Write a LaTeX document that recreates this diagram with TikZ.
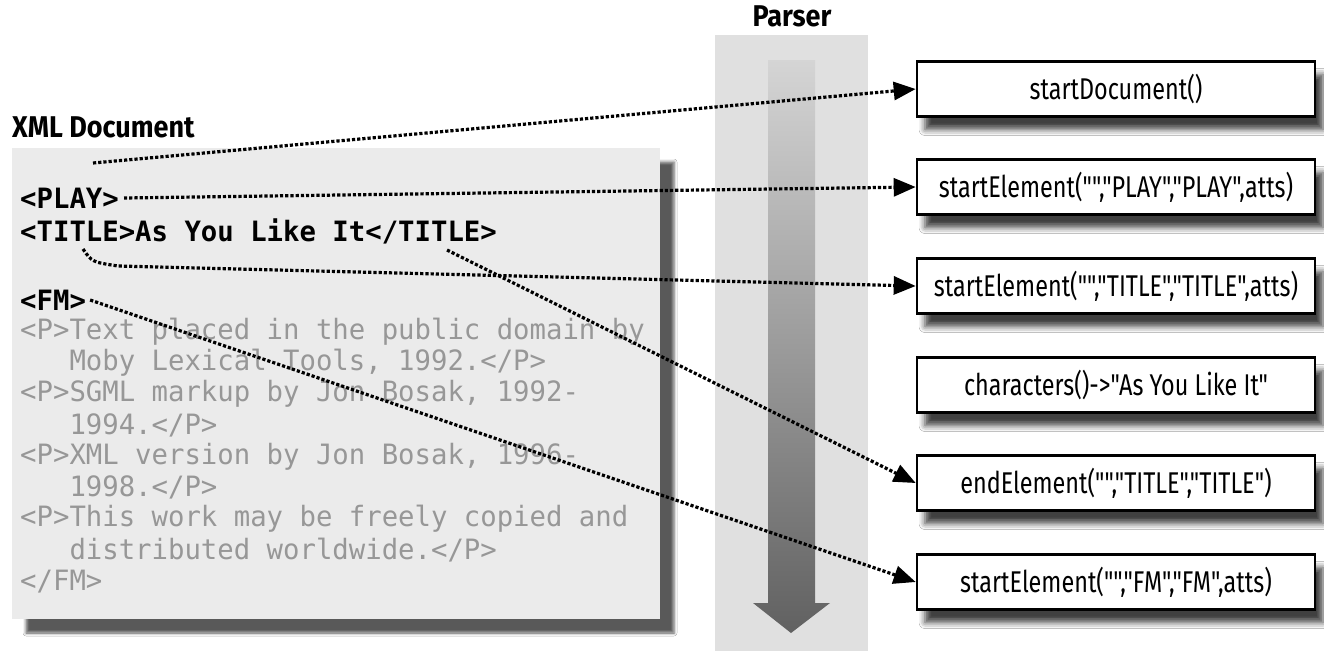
\documentclass[tikz,border=0pt]{standalone}
\usepackage{fontspec}
\setmainfont{Fira Sans}
\setmonofont{DejaVu Sans Mono}
\newfontfamily\callfont{Fira Sans}[Ligatures=TeXOff]
\usetikzlibrary{arrows.meta,shadows.blur}
\definecolor{docfill}{HTML}{EBEBEB}
\definecolor{bandfill}{HTML}{E0E0E0}
\definecolor{codegraycol}{HTML}{979797}
\newcommand{\calltext}[1]{\scalebox{0.78}[1]{#1}}
\newcommand{\headtext}[1]{\scalebox{0.9}[1]{#1}}
\newcommand{\codetext}[1]{\scalebox{0.975}[1]{#1}}
\tikzset{
  codeblack/.style={anchor=west, inner sep=0pt, text=black,
    font=\fontsize{28}{30}\selectfont\ttfamily\bfseries},
  codegray/.style={anchor=west, inner sep=0pt, text=codegraycol,
    font=\fontsize{28}{30}\selectfont\ttfamily},
  heading/.style={inner sep=0pt, text=black,
    font=\fontsize{30}{34}\selectfont\bfseries},
  callbox/.style={draw=black, line width=2.6pt, fill=white,
    minimum width=398pt, minimum height=55pt, inner sep=0pt,
    font=\fontsize{30}{34}\callfont,
    blur shadow={shadow xshift=8pt, shadow yshift=-13pt,
      shadow blur radius=6pt, shadow opacity=75}},
  flow/.style={line width=3.2pt, dash pattern=on 3.2pt off 2pt,
    -{Triangle[length=22pt,width=18pt,fill=black]}},
}
\begin{document}
\begin{tikzpicture}[x=1pt,y=-1pt]
\useasboundingbox (0,0) rectangle (1324,651);
\fill[white] (0,0) rectangle (1324,651);

% parser band with its downward arrow
\fill[bandfill] (715,35) rectangle (868,651);
\shade[top color=bandfill!95!black, bottom color=black!62]
  (768,60) -- (815,60) -- (815,603) -- (830,603) -- (791,633)
  -- (753,603) -- (768,603) -- cycle;
\node[heading] (parser) at (792,16) {\headtext{Parser}};

% XML document panel
\path[fill=docfill, blur shadow={shadow xshift=14pt, shadow yshift=-14pt,
  shadow blur radius=3pt, shadow opacity=65}] (12,148) rectangle (660,619);
\node[heading, anchor=west] (xmlhead) at (12,127) {\headtext{XML Document}};

\node[codeblack] (play)  at (20,198) {\codetext{<PLAY>}};
\node[codeblack] (title) at (20,231) {\codetext{<TITLE>As You Like It</TITLE>}};
\node[codeblack] (fm)    at (20,300) {\codetext{<FM>}};
\node[codegray] (l1) at (20,331.3) {\codetext{<P>Text placed in the public domain by}};
\node[codegray] (l2) at (20,362.6) {\codetext{\hphantom{<P>}Moby Lexical Tools, 1992.</P>}};
\node[codegray] (l3) at (20,393.9) {\codetext{<P>SGML markup by Jon Bosak, 1992-}};
\node[codegray] (l4) at (20,425.2) {\codetext{\hphantom{<P>}1994.</P>}};
\node[codegray] (l5) at (20,456.5) {\codetext{<P>XML version by Jon Bosak, 1996-}};
\node[codegray] (l6) at (20,487.8) {\codetext{\hphantom{<P>}1998.</P>}};
\node[codegray] (l7) at (20,519.1) {\codetext{<P>This work may be freely copied and}};
\node[codegray] (l8) at (20,550.4) {\codetext{\hphantom{<P>}distributed worldwide.</P>}};
\node[codegray] (l9) at (20,581.7) {\codetext{</FM>}};

% parser callbacks
\node[callbox] (b1) at (1116,89)  {\calltext{startDocument()}};
\node[callbox] (b2) at (1116,187) {\calltext{startElement("","PLAY","PLAY",atts)}};
\node[callbox] (b3) at (1116,286) {\calltext{startElement("","TITLE","TITLE",atts)}};
\node[callbox] (b4) at (1116,385) {\calltext{characters()->"As You Like It"}};
\node[callbox] (b5) at (1116,483) {\calltext{endElement("","TITLE","TITLE")}};
\node[callbox] (b6) at (1116,582) {\calltext{startElement("","FM","FM",atts)}};

% event connectors
\coordinate (docstart) at (93,163);
\coordinate (titlestart) at (83,249);
\coordinate (textstart) at (447,250);
\draw[flow] (docstart) -- (b1.west);
\draw[flow] ([xshift=5pt]play.east) -- (b2.west);
\draw[flow] (titlestart) .. controls (92,262) .. (118,266) -- (b3.west);
\draw[flow] (textstart) -- (b5.west);
\draw[flow] ([xshift=4pt]fm.east) -- (b6.west);
\end{tikzpicture}
\end{document}
